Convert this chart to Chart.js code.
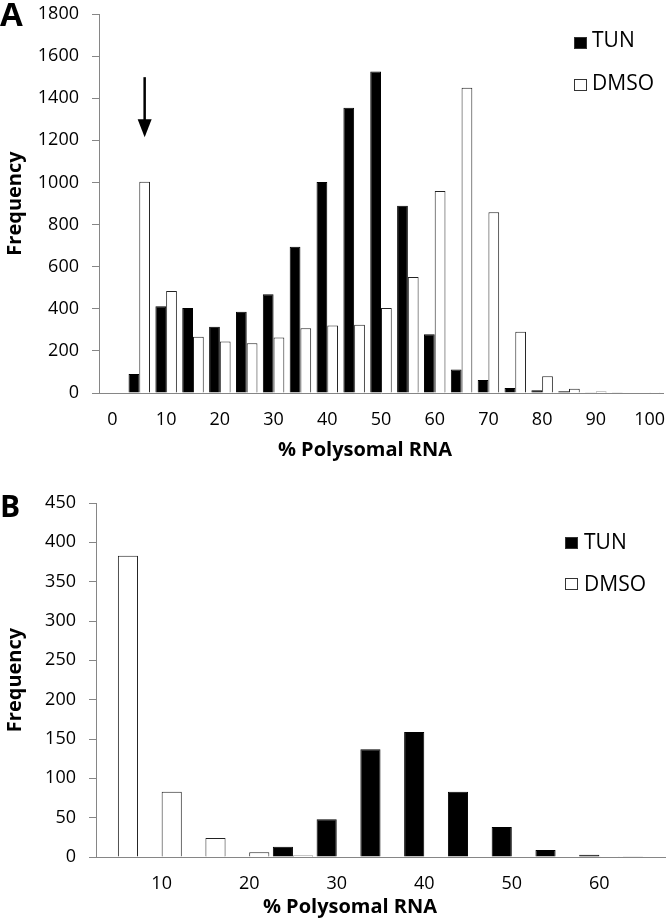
<!DOCTYPE html>
<html>
<head>
    <title>Polysomal RNA histograms</title>
    <script src="https://cdn.jsdelivr.net/npm/chart.js"></script>
    <style>
        body {margin: 0; padding: 0; background: #fff; font-family: 'Open Sans', sans-serif;}
        #page {position: relative; width: 666px; height: 919px; overflow: hidden;}
        #page canvas {position: absolute; left: 0;}
        .lbl {position: absolute; color: #000; line-height: 1; white-space: nowrap;}
        .panel {font-weight: bold;}
        .xtitle {font-size: 20px; font-weight: bold; text-align: center; width: 220px;}
        .leg {font-size: 21px;}
        .sq {position: absolute; width: 11px; height: 10px; border: 1px solid #333;}
    </style>
</head>
<body>
    <div id="page">
        <canvas id="chartA" width="666" height="470" style="top:0"></canvas>
        <canvas id="chartB" width="666" height="449" style="top:470px"></canvas>

        <div class="lbl panel" style="left:0; top:-3px; font-size:33px;">A</div>
        <div class="lbl panel" style="left:0; top:491px; font-size:30px;">B</div>

        <div class="lbl xtitle" style="left:255px; top:439px;">% Polysomal RNA</div>
        <div class="lbl xtitle" style="left:240px; top:896px;">% Polysomal RNA</div>

        <!-- legends -->
        <div class="sq" style="left:574px; top:37px; background:#000;"></div>
        <div class="lbl leg" style="left:592px; top:29px;">TUN</div>
        <div class="sq" style="left:574px; top:79px; background:#fff;"></div>
        <div class="lbl leg" style="left:592px; top:72px;">DMSO</div>

        <div class="sq" style="left:565px; top:537px; background:#000;"></div>
        <div class="lbl leg" style="left:584px; top:531px;">TUN</div>
        <div class="sq" style="left:565px; top:578px; background:#fff;"></div>
        <div class="lbl leg" style="left:584px; top:573px;">DMSO</div>
    </div>
    <script>
        // panel A: all genes, bins of 5 % polysomal RNA
        var binsA = [0, 5, 10, 15, 20, 25, 30, 35, 40, 45, 50, 55, 60, 65, 70, 75, 80, 85, 90, 95, 100];
        var tunA  = [0, 90, 412, 404, 315, 386, 469, 695, 1002, 1355, 1527, 889, 279, 112, 62, 24, 13, 8, 3, 1, 2];
        var dmsoA = [0, 1003, 484, 267, 245, 236, 264, 307, 321, 324, 404, 551, 959, 1450, 858, 291, 79, 20, 7, 2, 4];

        // panel B
        var binsB = [5, 10, 15, 20, 25, 30, 35, 40, 45, 50, 55, 60, 65];
        var tunB  = [0, 0, 0, 0, 13, 48, 137, 159, 83, 38, 9, 3, 1];
        var dmsoB = [383, 83, 24, 6, 2, 0, 0, 0, 0, 0, 0, 1, 0];

        var axisGrey = '#868686';
        var tickFont = {family: 'Open Sans', size: 18};

        // down arrow over the 5% DMSO bar in panel A
        var arrowPlugin = {
            id: 'arrow',
            afterDatasetsDraw: function(chart) {
                var bar = chart.getDatasetMeta(1).data[1];
                var y = chart.scales.y;
                var x = bar.x;
                var y1 = y.getPixelForValue(1500), y2 = y.getPixelForValue(1215);
                var ctx = chart.ctx;
                ctx.save();
                ctx.strokeStyle = '#000';
                ctx.fillStyle = '#000';
                ctx.lineWidth = 2.5;
                ctx.beginPath();
                ctx.moveTo(x, y1);
                ctx.lineTo(x, y2 - 14);
                ctx.stroke();
                ctx.beginPath();
                ctx.moveTo(x - 7, y2 - 18);
                ctx.lineTo(x + 7, y2 - 18);
                ctx.lineTo(x, y2);
                ctx.closePath();
                ctx.fill();
                ctx.restore();
            }
        };

        function makeChart(id, bins, tun, dmso, ymax, step, opts) {
            var ctx = document.getElementById(id).getContext('2d');
            return new Chart(ctx, {
                type: 'bar',
                data: {
                    labels: bins,
                    datasets: [
                        {label: 'TUN', data: tun, backgroundColor: '#000', borderColor: '#000', borderWidth: 1},
                        {label: 'DMSO', data: dmso, backgroundColor: '#fff', borderColor: '#222', borderWidth: 1}
                    ]
                },
                options: {
                    responsive: false,
                    animation: false,
                    layout: {padding: {top: opts.top, right: opts.right, left: 0, bottom: 0}},
                    datasets: {bar: {categoryPercentage: opts.catPct, barPercentage: 1.0}},
                    plugins: {
                        legend: {display: false},
                        tooltip: {enabled: false}
                    },
                    scales: {
                        x: {
                            grid: {display: true, drawOnChartArea: false, drawTicks: false},
                            border: {display: true, color: axisGrey, width: 1},
                            ticks: {
                                autoSkip: false,
                                maxRotation: 0,
                                padding: 16,
                                color: '#000',
                                font: tickFont,
                                callback: function(v, i) {
                                    return bins[i] % 10 === 0 ? String(bins[i]) : '';
                                }
                            },
                            afterFit: function(s) {
                                s.height = opts.xh;
                                s.paddingLeft = 0;
                                s.paddingRight = 0;
                            }
                        },
                        y: {
                            min: 0,
                            max: ymax,
                            grid: {drawOnChartArea: false, drawTicks: true, tickLength: 7, color: axisGrey},
                            border: {display: true, color: axisGrey, width: 1},
                            ticks: {
                                stepSize: step,
                                padding: 13,
                                color: '#000',
                                font: tickFont,
                                callback: function(v) { return String(v); }
                            },
                            title: {
                                display: true,
                                text: 'Frequency',
                                color: '#000',
                                font: {family: 'Open Sans', size: 20, weight: 'bold'},
                                padding: {top: 3, bottom: 0}
                            },
                            afterFit: function(s) {
                                s.width = opts.yw;
                                s.paddingTop = 0;
                                s.paddingBottom = 0;
                            }
                        }
                    }
                },
                plugins: opts.plugins || []
            });
        }

        makeChart('chartA', binsA, tunA, dmsoA, 1800, 200,
            {top: 14, right: 3, catPct: 0.8, xh: 77, yw: 99, plugins: [arrowPlugin]});
        makeChart('chartB', binsB, tunB, dmsoB, 450, 50,
            {top: 33, right: 1, catPct: 0.92, xh: 62, yw: 96});
    </script>
</body>
</html>
